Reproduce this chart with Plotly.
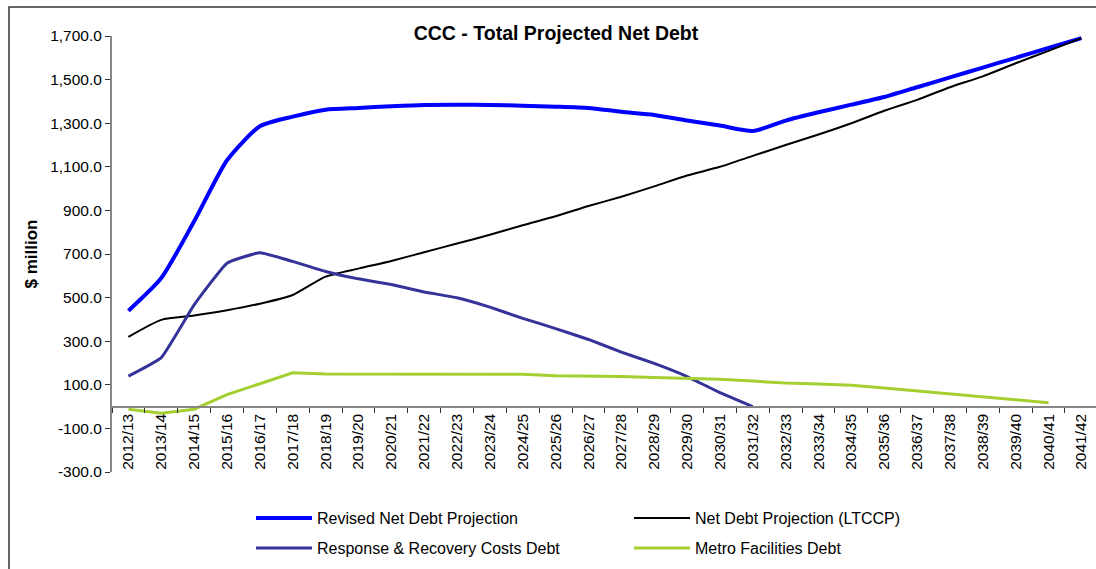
import plotly.graph_objects as go

# Financial years on the category axis
years = [f"{y}/{str(y + 1)[-2:]}" for y in range(2012, 2042)]

# Series values, $ million
revised_net_debt = [440, 590, 850, 1130, 1286, 1330, 1362, 1370, 1378, 1384,
                    1385, 1384, 1380, 1376, 1370, 1352, 1338, 1312, 1289, 1264,
                    1312, 1350, 1385, 1420, 1465, 1510, 1555, 1600, 1645, 1690]
net_debt_ltccp = [320, 398, 418, 442, 472, 512, 596, 633, 668, 708,
                  748, 788, 832, 873, 920, 963, 1010, 1060, 1100, 1150,
                  1200, 1248, 1300, 1357, 1407, 1465, 1515, 1575, 1632, 1690]
response_recovery = [140, 225, 467, 658, 706, 666, 620, 586, 560, 526,
                     499, 456, 405, 358, 308, 250, 198, 138, 64, 0,
                     None, None, None, None, None, None, None, None, None, None]
metro_facilities = [-12, -30, -12, 55, 105, 155, 150, 150, 150, 149,
                    149, 148, 148, 142, 141, 138, 133, 130, 125, 117,
                    108, 104, 98, 85, 72, 60, 45, 33, 18, None]

y_ticks = list(range(-300, 1701, 200))

FONT = "Liberation Sans, Arial, sans-serif"
AXIS_GREY = "#868686"

fig = go.Figure()
fig.add_trace(go.Scatter(
    x=years, y=revised_net_debt, mode="lines", name="Revised Net Debt Projection",
    line=dict(color="#0000FF", width=4, shape="spline", smoothing=0.6),
    legend="legend"))
fig.add_trace(go.Scatter(
    x=years, y=net_debt_ltccp, mode="lines", name="Net Debt Projection (LTCCP)",
    line=dict(color="#000000", width=2, shape="spline", smoothing=0.6),
    legend="legend"))
fig.add_trace(go.Scatter(
    x=years, y=response_recovery, mode="lines", name="Response & Recovery Costs Debt",
    line=dict(color="#333399", width=3, shape="spline", smoothing=0.35),
    legend="legend2"))
fig.add_trace(go.Scatter(
    x=years, y=metro_facilities, mode="lines", name="Metro Facilities Debt",
    line=dict(color="#A4CF30", width=3),
    legend="legend2"))

legend_common = dict(
    orientation="h", xanchor="left", yanchor="middle",
    font=dict(family=FONT, size=16, color="#000000"),
    bgcolor="rgba(0,0,0,0)", borderwidth=0,
    itemwidth=56, entrywidth=307, entrywidthmode="pixels",
    itemclick=False, itemdoubleclick=False,
)

fig.update_layout(
    width=1096, height=569,
    margin=dict(l=112, r=0, t=36, b=97),
    paper_bgcolor="white", plot_bgcolor="white",
    title=dict(
        text="CCC - Total Projected Net Debt",
        font=dict(family=FONT, size=19.5, color="#000000", weight="bold"),
        xref="paper", x=0.4512, xanchor="center",
        yref="container", y=1 - 33 / 569, yanchor="middle",
    ),
    xaxis=dict(
        type="category", categoryorder="array", categoryarray=years,
        range=[-0.5, 29.445],
        anchor="free", position=0.15,
        showline=True, linecolor=AXIS_GREY, linewidth=2,
        ticks="outside", ticklen=5, tickwidth=1, tickcolor="#333333",
        tickson="boundaries", tickangle=-90,
        tickfont=dict(family=FONT, size=15.5, color="#000000"),
        showgrid=False, zeroline=False,
    ),
    yaxis=dict(
        range=[-300, 1700],
        tickvals=y_ticks, ticktext=[f"{v:,.1f}" for v in y_ticks],
        showline=True, linecolor=AXIS_GREY, linewidth=2,
        ticks="outside", ticklen=5, tickwidth=1, tickcolor="#333333",
        tickfont=dict(family=FONT, size=15.5, color="#000000"),
        showgrid=False, zeroline=False,
        title=dict(text="$ million", standoff=8,
                   font=dict(family=FONT, size=17, color="#000000", weight="bold")),
    ),
    legend=dict(legend_common, x=(251 - 112) / 984, y=(472 - 518) / 436),
    legend2=dict(legend_common, x=(251 - 112) / 984, y=(472 - 548) / 436),
    showlegend=True,
    shapes=[dict(
        type="rect", xref="paper", yref="paper", layer="above",
        x0=(9 - 112) / 984, x1=1.05, y0=-0.4, y1=1 + (36 - 7) / 436,
        line=dict(color="#333333", width=1.5), fillcolor="rgba(0,0,0,0)",
    )],
)

fig.write_html("out.html")
